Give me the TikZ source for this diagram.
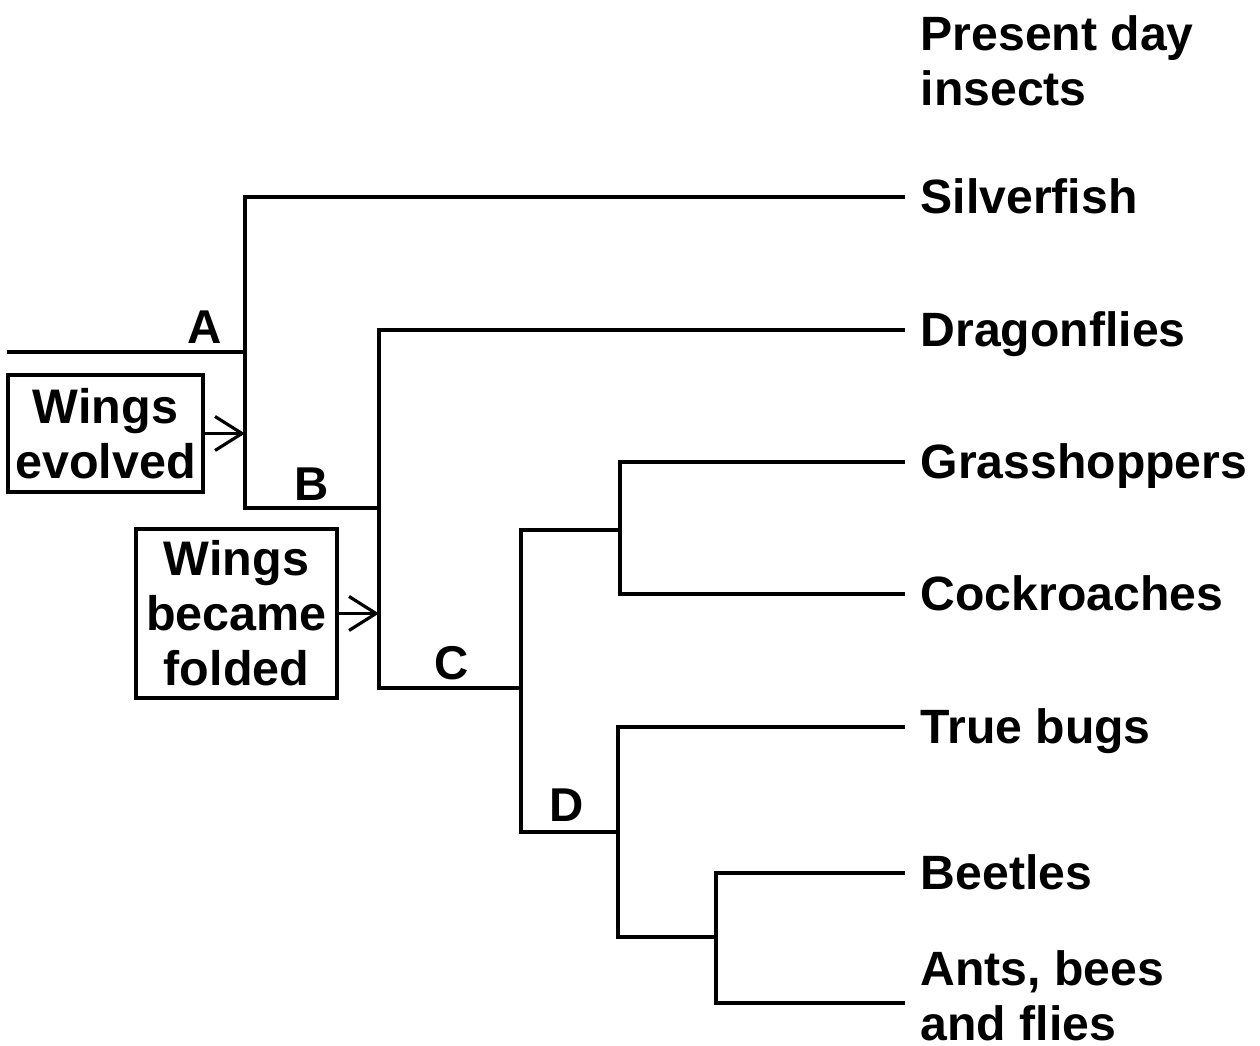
\documentclass[tikz,border=0pt]{standalone}
\usepackage{fontspec}
\setmainfont{Liberation Sans}
\usepackage{tikz}
\usetikzlibrary{arrows.meta, positioning}

\begin{document}
\begin{tikzpicture}[
    branch/.style={line width=0.9pt, line cap=rect},
    leaf/.style={anchor=west, inner xsep=0.17cm, inner ysep=0pt, align=left, font=\fontsize{13.7}{15.6}\selectfont\bfseries},
    oneline/.style={leaf, text height=0.34cm, text depth=0pt},
    lbl/.style={inner sep=0pt, font=\fontsize{13.5}{15.6}\selectfont\bfseries},
    event/.style={rectangle, draw, line width=0.9pt, inner sep=0pt, align=center, font=\fontsize{13.8}{15.6}\selectfont\bfseries},
    pointer/.style={-{Straight Barb[length=0.27cm, width=0.34cm]}, line width=0.9pt}
]
\useasboundingbox (0,0) rectangle (12.6,-10.46);

% Present day insects
\node[leaf, anchor=north west] (title) at (9.03,-0.15) {Present day\\insects};
\node[oneline] (silverfish) at (9.03,-1.97) {Silverfish};
\node[oneline] (dragonflies) at (9.03,-3.30) {Dragonflies};
\node[oneline] (grasshoppers) at (9.03,-4.62) {Grasshoppers};
\node[oneline] (cockroaches) at (9.03,-5.94) {Cockroaches};
\node[oneline] (truebugs) at (9.03,-7.27) {True bugs};
\node[oneline] (beetles) at (9.03,-8.73) {Beetles};
\node[leaf] (ants) at (9.03,-9.96) {Ants, bees\\and flies};
\coordinate (antsEnd) at (9.03,-10.03);

% Branch points
\coordinate (start) at (0.09,-3.52);
\coordinate (nodeA) at (2.45,-3.52);
\coordinate (nodeB) at (3.79,-5.08);
\coordinate (nodeC) at (5.21,-6.88);
\coordinate (nodeE) at (6.20,-5.30);
\coordinate (nodeD) at (6.18,-8.32);
\coordinate (nodeF) at (7.16,-9.37);

% Tree
\draw[branch] (start) -- (nodeA);
\draw[branch] (silverfish.west) -| (nodeA) |- (nodeB);
\draw[branch] (dragonflies.west) -| (nodeB) |- (nodeC);
\draw[branch] (nodeC) |- (nodeE);
\draw[branch] (grasshoppers.west) -| (nodeE) |- (cockroaches.west);
\draw[branch] (nodeC) |- (nodeD);
\draw[branch] (truebugs.west) -| (nodeD) |- (nodeF);
\draw[branch] (beetles.west) -| (nodeF) |- (antsEnd);

% Labels
\node[lbl] (labelA) at (2.05,-3.27) {A};
\node[lbl] (labelB) at (3.12,-4.84) {B};
\node[lbl] (labelC) at (4.52,-6.63) {C};
\node[lbl] (labelD) at (5.67,-8.05) {D};

% Events
\node[event, minimum width=1.95cm, minimum height=1.17cm] (evolved) at (1.055,-4.335) {Wings\\evolved};
\node[event, minimum width=2.01cm, minimum height=1.69cm] (folded) at (2.365,-6.135) {Wings\\became\\folded};
\coordinate (hitA) at (2.45,-4.335);
\coordinate (hitB) at (3.79,-6.135);
\draw[pointer] (evolved) -- (hitA);
\draw[pointer] (folded) -- (hitB);
\end{tikzpicture}
\end{document}
